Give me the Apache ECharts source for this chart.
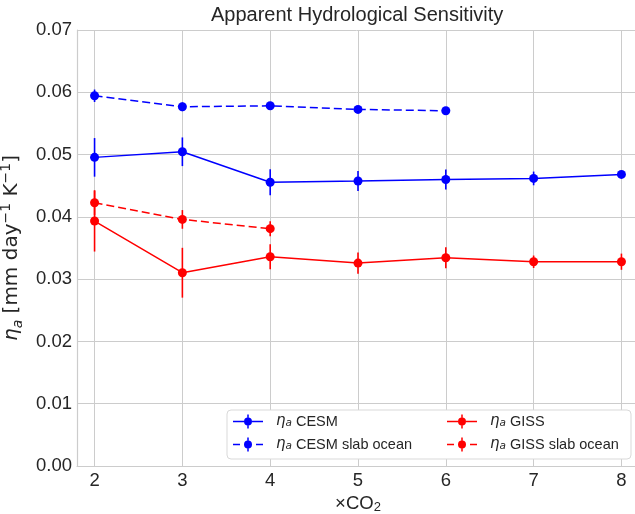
<!DOCTYPE html>
<html>
<head>
<meta charset="utf-8">
<script src="https://cdn.jsdelivr.net/npm/echarts@6/dist/echarts.min.js"></script>
<style>
  html, body { margin: 0; padding: 0; background: #fff; }
  #chart { width: 635px; height: 514px; }
</style>
</head>
<body>
<div id="chart"></div>
<script>
// x positions (multiples of CO2)
const xCO2 = [2, 3, 4, 5, 6, 7, 8];

// apparent hydrological sensitivity and half error bars
const cesm = [0.04955, 0.05045, 0.04555, 0.04575, 0.04600, 0.04617, 0.04681];
const cesmErr = [0.0031, 0.0023, 0.0021, 0.0016, 0.0016, 0.0011, 0.0005];
const cesmSlab = [0.05944, 0.05767, 0.05783, 0.05725, 0.05703];
const cesmSlabErr = [0.0010, 0.0007, 0.0005, 0.0004, 0.0004];
const giss = [0.03933, 0.03103, 0.03360, 0.03258, 0.03344, 0.03279, 0.03280];
const gissErr = [0.0049, 0.0040, 0.0020, 0.0017, 0.0017, 0.0010, 0.0013];
const gissSlab = [0.04226, 0.03959, 0.03810];
const gissSlabErr = [0.0020, 0.0015, 0.0012];

const yTicks = [0, 0.01, 0.02, 0.03, 0.04, 0.05, 0.06, 0.07];

const names = ['ηa CESM', 'ηa CESM slab ocean', 'ηa GISS', 'ηa GISS slab ocean'];
const legendText = {
    'ηa CESM': '{e|η}{s|a} CESM',
    'ηa CESM slab ocean': '{e|η}{s|a} CESM slab ocean',
    'ηa GISS': '{e|η}{s|a} GISS',
    'ηa GISS slab ocean': '{e|η}{s|a} GISS slab ocean'
};

const BLUE = '#0000ff';
const RED = '#ff0000';
const GRID = '#cccccc';
const TXT = '#262626';

function pairs(vals) {
    return vals.map((v, i) => [xCO2[i], v]);
}
function triples(vals, errs) {
    return vals.map((v, i) => [xCO2[i], v, errs[i]]);
}

// legend icons: line + marker + vertical error tick
const iconSolid = 'path://M0,6.25L11,6.25L11,7.75L0,7.75Z M19,6.25L30,6.25L30,7.75L19,7.75Z ' +
    'M14.25,0L15.75,0L15.75,3L14.25,3Z M14.25,11L15.75,11L15.75,14L14.25,14Z ' +
    'M11,7A4,4 0 1 1 19,7A4,4 0 1 1 11,7Z';
const iconDash = 'path://M0,6.25L7,6.25L7,7.75L0,7.75Z M23,6.25L30,6.25L30,7.75L23,7.75Z ' +
    'M14.25,0L15.75,0L15.75,3L14.25,3Z M14.25,11L15.75,11L15.75,14L14.25,14Z ' +
    'M11,7A4,4 0 1 1 19,7A4,4 0 1 1 11,7Z';

function errSeries(name, color, vals, errs) {
    return {
        name: name,
        type: 'custom',
        color: color,
        itemStyle: { color: color },
        data: triples(vals, errs),
        encode: { x: 0, y: 1 },
        z: 2,
        renderItem: function (params, api) {
            const x = api.value(0), y = api.value(1), e = api.value(2);
            const p1 = api.coord([x, y + e]);
            const p2 = api.coord([x, y - e]);
            return {
                type: 'line',
                shape: { x1: p1[0], y1: p1[1], x2: p2[0], y2: p2[1] },
                style: { stroke: color, lineWidth: 1.6 }
            };
        }
    };
}

function lineSeries(name, color, vals, dashed) {
    return {
        name: name,
        type: 'line',
        data: pairs(vals),
        color: color,
        symbol: 'circle',
        symbolSize: 9,
        showAllSymbol: true,
        itemStyle: { color: color },
        lineStyle: { color: color, width: 1.5, type: dashed ? [8, 4] : 'solid' },
        z: 3,
        animation: false
    };
}

const legendRich = {
    e: { fontFamily: 'DejaVu Sans', fontStyle: 'italic', fontSize: 15, color: TXT },
    s: { fontFamily: 'DejaVu Sans', fontStyle: 'italic', fontSize: 10.5, color: TXT, verticalAlign: 'bottom', lineHeight: 12 }
};

const chart = echarts.init(document.getElementById('chart'), null, { renderer: 'canvas' });

const option = {
    animation: false,
    backgroundColor: '#fff',
    title: {
        text: 'Apparent Hydrological Sensitivity',
        left: 211,
        top: 5,
        padding: 0,
        textStyle: { fontFamily: 'Liberation Sans', fontSize: 20, fontWeight: 'normal', color: TXT }
    },
    grid: { left: 77, right: -4, top: 30, bottom: 48, containLabel: false, outerBoundsMode: 'none' },
    xAxis: {
        type: 'value',
        min: 1.8,
        max: 8.2,
        splitNumber: 6,
        name: '×CO{s|2}',
        nameLocation: 'middle',
        nameGap: 20,
        nameTextStyle: {
            fontFamily: 'Liberation Sans', fontSize: 18.5, color: TXT,
            rich: {
                s: { fontFamily: 'Liberation Sans', fontSize: 13, color: TXT, verticalAlign: 'bottom', lineHeight: 14 }
            }
        },
        axisLine: { show: true, lineStyle: { color: GRID, width: 1.2 } },
        axisTick: { show: false },
        splitLine: { show: true, lineStyle: { color: GRID, width: 1 } },
        axisLabel: {
            margin: 5,
            fontFamily: 'Liberation Sans',
            fontSize: 18.5,
            color: TXT,
            showMinLabel: false,
            showMaxLabel: false,
            formatter: function (v) { return Number.isInteger(v) ? String(v) : ''; }
        }
    },
    yAxis: {
        type: 'value',
        min: yTicks[0],
        max: yTicks[yTicks.length - 1],
        interval: 0.01,
        name: '{e|η}{s|a} [mm day{p|−1} K{p|−1}]',
        nameLocation: 'middle',
        nameRotate: 90,
        nameGap: 44,
        nameTextStyle: {
            fontFamily: 'DejaVu Sans', fontSize: 20, color: TXT, lineHeight: 26,
            rich: {
                e: { fontFamily: 'DejaVu Sans', fontStyle: 'italic', fontSize: 20, color: TXT, lineHeight: 26 },
                s: { fontFamily: 'DejaVu Sans', fontStyle: 'italic', fontSize: 14, color: TXT, verticalAlign: 'bottom', lineHeight: 16 },
                p: { fontFamily: 'DejaVu Sans', fontSize: 14, color: TXT, verticalAlign: 'top', lineHeight: 14 }
            }
        },
        axisLine: { show: true, lineStyle: { color: GRID, width: 1.2 } },
        axisTick: { show: false },
        splitLine: { show: true, lineStyle: { color: GRID, width: 1 } },
        axisLabel: {
            margin: 5,
            fontFamily: 'Liberation Sans',
            fontSize: 18.5,
            color: TXT,
            formatter: function (v) { return v.toFixed(2); }
        }
    },
    graphic: [{
        type: 'rect',
        z: 10,
        shape: { x: 227, y: 410, width: 404, height: 49, r: 4 },
        style: { fill: '#ffffff', stroke: '#d9d9d9', lineWidth: 1 }
    }],
    legend: [{
        orient: 'vertical',
        left: 233,
        top: 414,
        padding: 0,
        itemWidth: 30,
        itemHeight: 14,
        itemGap: 8,
        z: 20,
        data: [
            { name: names[0], icon: iconSolid },
            { name: names[1], icon: iconDash }
        ],
        formatter: function (n) { return legendText[n]; },
        textStyle: { fontFamily: 'Liberation Sans', fontSize: 14.5, color: TXT, padding: [0, 0, 0, 8], rich: legendRich }
    }, {
        orient: 'vertical',
        left: 447,
        top: 414,
        padding: 0,
        itemWidth: 30,
        itemHeight: 14,
        itemGap: 8,
        z: 20,
        data: [
            { name: names[2], icon: iconSolid },
            { name: names[3], icon: iconDash }
        ],
        formatter: function (n) { return legendText[n]; },
        textStyle: { fontFamily: 'Liberation Sans', fontSize: 14.5, color: TXT, padding: [0, 0, 0, 8], rich: legendRich }
    }],
    series: [
        errSeries(names[0], BLUE, cesm, cesmErr),
        errSeries(names[1], BLUE, cesmSlab, cesmSlabErr),
        errSeries(names[2], RED, giss, gissErr),
        errSeries(names[3], RED, gissSlab, gissSlabErr),
        lineSeries(names[0], BLUE, cesm, false),
        lineSeries(names[1], BLUE, cesmSlab, true),
        lineSeries(names[2], RED, giss, false),
        lineSeries(names[3], RED, gissSlab, true)
    ]
};

chart.setOption(option);
</script>
</body>
</html>
